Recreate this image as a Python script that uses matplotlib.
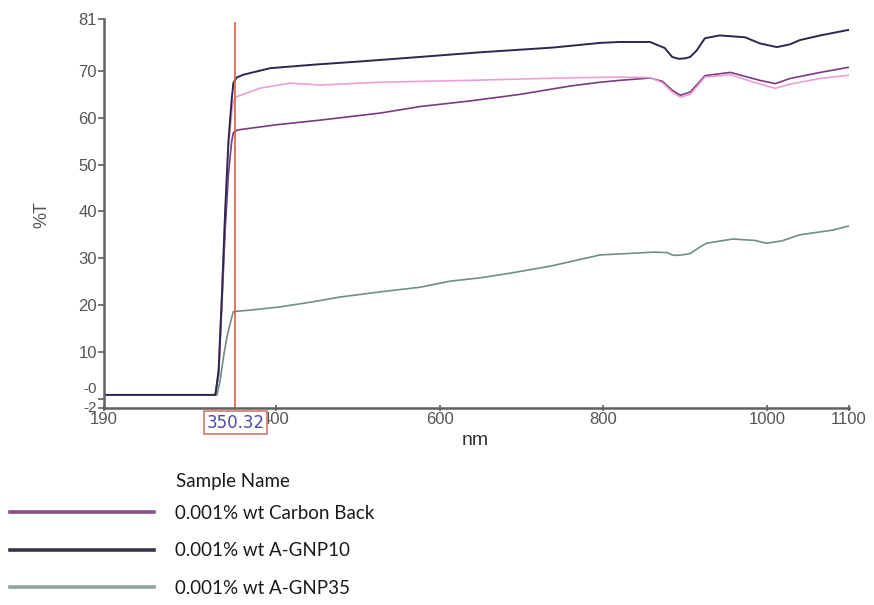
'''
UV-Vis transmittance spectra (%T vs wavelength) for the three samples.
'''
import matplotlib
matplotlib.use("Agg")
import matplotlib.pyplot as plt
from matplotlib.lines import Line2D
from matplotlib.transforms import ScaledTranslation

# 0.001% wt A-GNP10 (dark navy)
gnp10_nm = [190, 326, 330, 334, 338, 342, 346, 348, 352, 360, 393, 450, 500, 576, 650, 738,
            796, 820, 857, 875, 884, 892, 900, 906, 914, 924, 942, 973, 991, 1012, 1028,
            1040, 1065, 1100]
gnp10_t = [0.8, 0.8, 6, 22, 40, 55, 64, 67.4, 68.6, 69.2, 70.6, 71.4, 72, 73, 74, 75,
           76, 76.2, 76.2, 74.9, 73, 72.6, 72.7, 73, 74.4, 77, 77.6, 77.2, 75.9, 75.1, 75.7,
           76.6, 77.6, 78.8]

# 0.001% wt Carbon Back (purple)
carbon_nm = [190, 326, 330, 334, 338, 342, 346, 348, 353, 400, 454, 527, 576, 637, 698, 760,
             796, 820, 857, 872, 884, 894, 906, 915, 924, 955, 991, 1010, 1028, 1065, 1100]
carbon_t = [0.8, 0.8, 5, 20, 36, 48, 55, 56.8, 57.4, 58.5, 59.5, 61, 62.4, 63.6, 65, 66.8,
            67.6, 68, 68.5, 67.8, 65.9, 64.8, 65.5, 67.2, 69, 69.7, 68, 67.3, 68.4, 69.7, 70.8]

# unlabelled pink trace
pink_nm = [190, 326, 330, 334, 338, 342, 346, 348, 352, 380, 417, 454, 527, 637, 747, 820,
           857, 872, 884, 894, 906, 915, 924, 955, 991, 1010, 1028, 1065, 1100]
pink_t = [0.8, 0.8, 6, 22, 40, 54, 61, 63.8, 64.5, 66.3, 67.4, 67, 67.6, 68, 68.5, 68.7,
          68.6, 67.5, 65.5, 64.4, 65, 66.8, 68.7, 69.2, 67.2, 66.3, 67.2, 68.4, 69.1]

# 0.001% wt A-GNP35 (green)
gnp35_nm = [190, 328, 332, 336, 340, 344, 348, 368, 405, 442, 478, 527, 576, 613, 649, 686,
            735, 796, 862, 878, 884, 890, 900, 906, 918, 926, 958, 985, 999, 1018, 1040,
            1080, 1100]
gnp35_t = [0.8, 0.8, 4, 9, 13, 16, 18.6, 18.9, 19.6, 20.6, 21.7, 22.8, 23.8, 25.1, 25.8, 26.8,
           28.3, 30.7, 31.3, 31.2, 30.7, 30.6, 30.8, 31, 32.4, 33.2, 34.1, 33.8, 33.2, 33.7, 35,
           36, 36.9]

marker_nm = 350.32
x_ticks = [190, 400, 600, 800, 1000, 1100]
y_ticks = [-2, 0, 10, 20, 30, 40, 50, 60, 70, 81]
y_labels = ['-2', '-0', '10', '20', '30', '40', '50', '60', '70', '81']

legend_names = ['0.001% wt Carbon Back', '0.001% wt A-GNP10', '0.001% wt A-GNP35']
legend_colors = ['#8a4e88', '#37334f', '#8fa69c']

plt.rcParams['font.family'] = ['Liberation Sans', 'DejaVu Sans']

fig = plt.figure(figsize=(8.74, 6.05), dpi=100)
ax = fig.add_axes([104 / 874, 1 - 408 / 605, 745 / 874, 388.5 / 605])

ax.plot(gnp35_nm, gnp35_t, color='#6e9080', lw=1.2)
ax.plot(carbon_nm, carbon_t, color='#7a3a80', lw=1.2)
ax.plot(pink_nm, pink_t, color='#ec9fd4', lw=1.2)
ax.plot(gnp10_nm, gnp10_t, color='#2b2850', lw=1.4)

ax.axvline(marker_nm, ymax=0.99, color='#d8603c', lw=1.2)

ax.set_xlim(190, 1100)
ax.set_ylim(-2, 81)
ax.set_xticks(x_ticks)
ax.set_yticks(y_ticks)
ax.set_yticklabels(y_labels)

for side in ['top', 'right']:
    ax.spines[side].set_visible(False)
for side in ['left', 'bottom']:
    ax.spines[side].set_color('#606060')
    ax.spines[side].set_linewidth(1.8)

ax.tick_params(axis='y', direction='out', length=4, width=1.2, color='#606060',
               labelsize=12, labelcolor='#555555', pad=1)
ax.tick_params(axis='x', direction='inout', length=4, width=1.2, color='#606060',
               labelsize=12, labelcolor='#555555', pad=1)

# bottom two y labels sit very close; squeeze them like the original
ylabs = ax.get_yticklabels()
for lab, dy in [(ylabs[0], 2), (ylabs[1], 11)]:
    lab.set_fontsize(11)
    lab.set_transform(lab.get_transform() + ScaledTranslation(0, dy / 100, fig.dpi_scale_trans))

ax.set_ylabel('%T', fontsize=13, color='#555555')
ax.yaxis.set_label_coords(-0.072, 0.497)
ax.set_xlabel('nm', fontsize=14, color='#333333')
ax.xaxis.set_label_coords(0.498, -0.062)

# cursor readout box
ax.annotate(f'{marker_nm:.2f}', xy=(marker_nm, 0), xycoords=('data', 'axes fraction'),
            xytext=(0, -10.5), textcoords='offset points', ha='center', va='center',
            fontsize=12, family='DejaVu Sans', color='#4b4ba8', zorder=10,
            annotation_clip=False,
            bbox=dict(boxstyle='square,pad=0.14', fc='white', ec='#cf7a68', lw=1.2))

# legend below the plot
fig.text(176 / 874, 1 - 481 / 605, 'Sample Name', fontsize=13.5, family='Lato',
         color='#1a1a1a', va='center')
handles = [Line2D([], [], color=c, lw=2.6) for c in legend_colors]
fig.legend(handles, legend_names, loc='upper left', bbox_to_anchor=(10 / 874, 1 - 505 / 605),
           frameon=False, borderpad=0, borderaxespad=0, handlelength=7.7,
           handletextpad=1.1, labelspacing=1.08,
           prop={'family': 'Lato', 'size': 13.5}, labelcolor='#1a1a1a')

plt.savefig('out.png', dpi=100)
